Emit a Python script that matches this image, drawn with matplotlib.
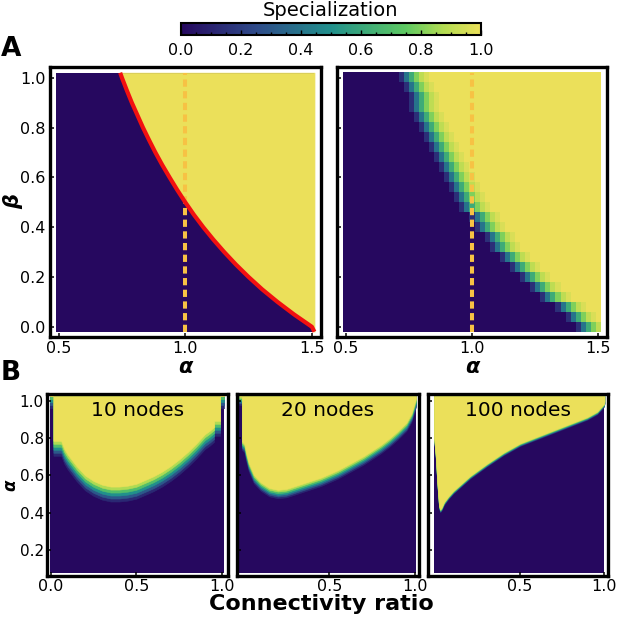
import numpy as np
import matplotlib
matplotlib.use("Agg")
import matplotlib.pyplot as plt
from matplotlib.colors import LinearSegmentedColormap, Normalize
from matplotlib.cm import ScalarMappable
from matplotlib.ticker import MultipleLocator
from matplotlib.patches import Rectangle

# ---- data ----
# panel A left: analytic boundary (red curve), alpha at each beta
red_beta = [-0.02, 0.0, 0.05, 0.10, 0.15, 0.20, 0.25, 0.30, 0.35, 0.40, 0.45, 0.50,
            0.55, 0.60, 0.65, 0.70, 0.75, 0.80, 0.85, 0.90, 0.95, 1.00, 1.02]
red_alpha = [1.51, 1.500, 1.429, 1.364, 1.304, 1.250, 1.200, 1.154, 1.111, 1.071, 1.034, 1.000,
             0.968, 0.938, 0.909, 0.882, 0.857, 0.833, 0.811, 0.789, 0.769, 0.750, 0.743]
alpha_ref = 1.0

# panel A right: simulated grid (alpha 0.5..1.5 step 0.02, beta 0..1 step 0.04)
grid_alpha = [round(0.5 + 0.02 * j, 2) for j in range(51)]
grid_beta = [round(0.04 * k, 2) for k in range(26)]
# first alpha column where specialization rises, per beta row (bottom -> top)
right_start = [1.42, 1.38, 1.34, 1.28, 1.24, 1.20, 1.16, 1.12, 1.08, 1.06, 1.02, 1.00, 0.96,
               0.94, 0.92, 0.90, 0.88, 0.86, 0.84, 0.82, 0.80, 0.78, 0.76, 0.76, 0.74, 0.72]
# specialization values across the transition, column by column
ramp_profile = [0.15, 0.40, 0.62, 0.80, 0.90, 0.96]

# panel B: lower edge of the specialized region (alpha vs connectivity ratio)
b1_c = [-0.005, 0.015, 0.015, 0.06, 0.08, 0.10, 0.15, 0.20, 0.25, 0.30, 0.35, 0.40, 0.45,
        0.50, 0.55, 0.60, 0.65, 0.70, 0.75, 0.80, 0.85, 0.90, 0.93, 0.955, 0.955, 0.99, 0.99, 1.013]
b1_lo = [1.0, 1.0, 0.745, 0.745, 0.70, 0.67, 0.61, 0.56, 0.53, 0.51, 0.50, 0.50, 0.505,
         0.515, 0.535, 0.555, 0.58, 0.61, 0.645, 0.685, 0.73, 0.78, 0.80, 0.82, 0.852, 0.852, 1.0, 1.0]
b2_c = [-0.025, -0.01, -0.01, 0.005, 0.015, 0.03, 0.06, 0.10, 0.15, 0.20, 0.25, 0.30, 0.35,
        0.40, 0.45, 0.50, 0.55, 0.60, 0.65, 0.70, 0.75, 0.80, 0.85, 0.90, 0.95, 0.98, 1.006]
b2_lo = [1.0, 1.0, 0.76, 0.745, 0.70, 0.645, 0.58, 0.54, 0.51, 0.50, 0.505, 0.52, 0.535,
         0.55, 0.565, 0.585, 0.605, 0.63, 0.655, 0.68, 0.71, 0.74, 0.775, 0.815, 0.86, 0.91, 0.99]
b3_c = [-0.015, -0.005, 0.005, 0.015, 0.022, 0.03, 0.045, 0.07, 0.10, 0.15, 0.20, 0.30, 0.40,
        0.50, 0.60, 0.70, 0.80, 0.90, 0.96, 1.0, 1.004]
b3_lo = [0.80, 0.70, 0.55, 0.43, 0.41, 0.42, 0.45, 0.48, 0.51, 0.55, 0.59, 0.655, 0.715,
         0.765, 0.80, 0.835, 0.87, 0.905, 0.935, 0.975, 0.99]
node_labels = ["10 nodes", "20 nodes", "100 nodes"]
band_width = [0.016, 0.009, 0.003]   # half-step of the fuzzy edge, per network size
band_vals = [0.12, 0.30, 0.50, 0.70, 0.87, 1.0]
band_off = [-2.5, -1.5, -0.5, 0.5, 1.5, 2.5]

cbar_ticks = [0.0, 0.2, 0.4, 0.6, 0.8, 1.0]

# ---- style ----
spec_cmap = LinearSegmentedColormap.from_list(
    "spec", [(0.0, "#26085f"), (0.25, "#2f4b8a"), (0.5, "#21908c"),
             (0.75, "#5ec962"), (0.88, "#b5dc52"), (1.0, "#ebe05a")])
DASH = "#f7c244"
RED = "#f21010"
plt.rcParams["font.family"] = ["DejaVu Sans"]

fig = plt.figure(figsize=(6.17, 6.17), dpi=100)
W = 617.0


def px_axes(x0, y0, x1, y1):
    return fig.add_axes([x0 / W, 1 - y1 / W, (x1 - x0) / W, (y1 - y0) / W])


def style(ax, xlim, ylim, xticks, yticks, ylabels=True, pad=3):
    ax.set_xlim(*xlim)
    ax.set_ylim(*ylim)
    ax.set_xticks(xticks)
    ax.set_yticks(yticks)
    ax.set_xticklabels([f"{t:.1f}" for t in xticks])
    if ylabels:
        ax.set_yticklabels([f"{t:.1f}" for t in yticks])
    else:
        ax.set_yticklabels([])
    ax.tick_params(direction="in", length=3, width=1.1, labelsize=11.5, pad=pad)
    for sp in ax.spines.values():
        sp.set_linewidth(2.4)


a_ext = (0.49, 1.51, -0.02, 1.02)
a_xlim = (0.466, 1.536)
a_ylim = (-0.041, 1.043)

# A left
axl = px_axes(50, 67, 321, 337)
axl.add_patch(Rectangle((a_ext[0], a_ext[2]), a_ext[1] - a_ext[0], a_ext[3] - a_ext[2],
                        color=spec_cmap(0.0), lw=0))
yel = spec_cmap(1.0)
axl.fill_betweenx(red_beta, red_alpha, a_ext[1], facecolor=yel, edgecolor=yel, lw=0.6)
axl.plot([alpha_ref, alpha_ref], [a_ext[2], a_ext[3]], color=DASH, lw=2.9, ls=(0, (1.8, 1.1)))
axl.plot(red_alpha, red_beta, color=RED, lw=3, solid_capstyle="butt")
style(axl, a_xlim, a_ylim, [0.5, 1.0, 1.5], [0.0, 0.2, 0.4, 0.6, 0.8, 1.0])
axl.set_xlabel("α", fontsize=15, fontweight="bold", fontstyle="italic")
axl.xaxis.set_label_coords(0.5, -0.075)
axl.set_ylabel("β", fontsize=15, fontweight="bold", fontstyle="italic")
axl.yaxis.set_label_coords(-0.10, 0.5)

# A right
grid = np.zeros((len(grid_beta), len(grid_alpha)))
for k, s in enumerate(right_start):
    j0 = grid_alpha.index(s)
    grid[k, j0:] = 1.0
    for i, v in enumerate(ramp_profile):
        if j0 + i < len(grid_alpha):
            grid[k, j0 + i] = v
axr = px_axes(337, 67, 607, 337)
axr.imshow(grid, cmap=spec_cmap, vmin=0, vmax=1, extent=a_ext, aspect="auto",
           origin="lower", interpolation="nearest")
axr.plot([alpha_ref, alpha_ref], [a_ext[2], a_ext[3]], color=DASH, lw=2.9, ls=(0, (1.8, 1.1)))
style(axr, a_xlim, a_ylim, [0.5, 1.0, 1.5], [0.0, 0.2, 0.4, 0.6, 0.8, 1.0], ylabels=False)
axr.set_xlabel("α", fontsize=15, fontweight="bold", fontstyle="italic")
axr.xaxis.set_label_coords(0.5, -0.075)

# B panels
b_frames = [(46.7, 228), (236.7, 419), (428.3, 608)]
b_xlims = [(-0.024, 1.036), (-0.04, 1.024), (-0.049, 1.025)]
b_xticks = [[0.0, 0.5, 1.0], [0.5, 1.0], [0.5, 1.0]]
b_curves = [(b1_c, b1_lo), (b2_c, b2_lo), (b3_c, b3_lo)]
b_top, b_bot = 1.025, 0.078
for n in range(3):
    ax = px_axes(b_frames[n][0], 394, b_frames[n][1], 576)
    cs, lo = b_curves[n]
    cs = np.array(cs)
    lo = np.array(lo)
    ax.add_patch(Rectangle((cs[0], b_bot), cs[-1] - cs[0], b_top - b_bot,
                           color=spec_cmap(0.0), lw=0))
    for v, o in zip(band_vals, band_off):
        edge = np.minimum(lo + o * band_width[n], b_top)
        col = spec_cmap(v)
        ax.fill_between(cs, edge, b_top, facecolor=col, edgecolor=col, lw=0.4)
    style(ax, b_xlims[n], (0.061, 1.036), b_xticks[n], [0.2, 0.4, 0.6, 0.8, 1.0],
          ylabels=(n == 0), pad=2)
    ax.tick_params(axis="y", labelsize=11)
    ax.text(0.5, 0.912, node_labels[n], transform=ax.transAxes, ha="center", va="center",
            fontsize=14.5)
    if n == 0:
        ax.set_ylabel("α", fontsize=12, fontweight="bold", fontstyle="italic")
        ax.yaxis.set_label_coords(-0.150, 0.5)

fig.text(321 / W, 1 - 604 / W, "Connectivity ratio", ha="center", va="center",
         fontsize=16, fontweight="bold")

# colorbar
cax = px_axes(181, 22.7, 481, 35)
cb = fig.colorbar(ScalarMappable(norm=Normalize(0, 1), cmap=spec_cmap), cax=cax,
                  orientation="horizontal", ticks=cbar_ticks)
cb.ax.xaxis.set_minor_locator(MultipleLocator(0.05))
cb.ax.tick_params(which="major", direction="in", length=3.5, width=1, labelsize=11.5, pad=6)
cb.ax.tick_params(which="minor", direction="in", length=2.5, width=1)
cb.outline.set_linewidth(1.5)
cb.ax.set_xticklabels([f"{t:.1f}" for t in cbar_ticks])
fig.text(331 / W, 1 - 11 / W, "Specialization", ha="center", va="center", fontsize=14)

fig.text(1 / W, 1 - 49 / W, "A", ha="left", va="center", fontsize=19, fontweight="bold")
fig.text(1 / W, 1 - 373 / W, "B", ha="left", va="center", fontsize=19, fontweight="bold")

fig.savefig("out.png", dpi=100)
